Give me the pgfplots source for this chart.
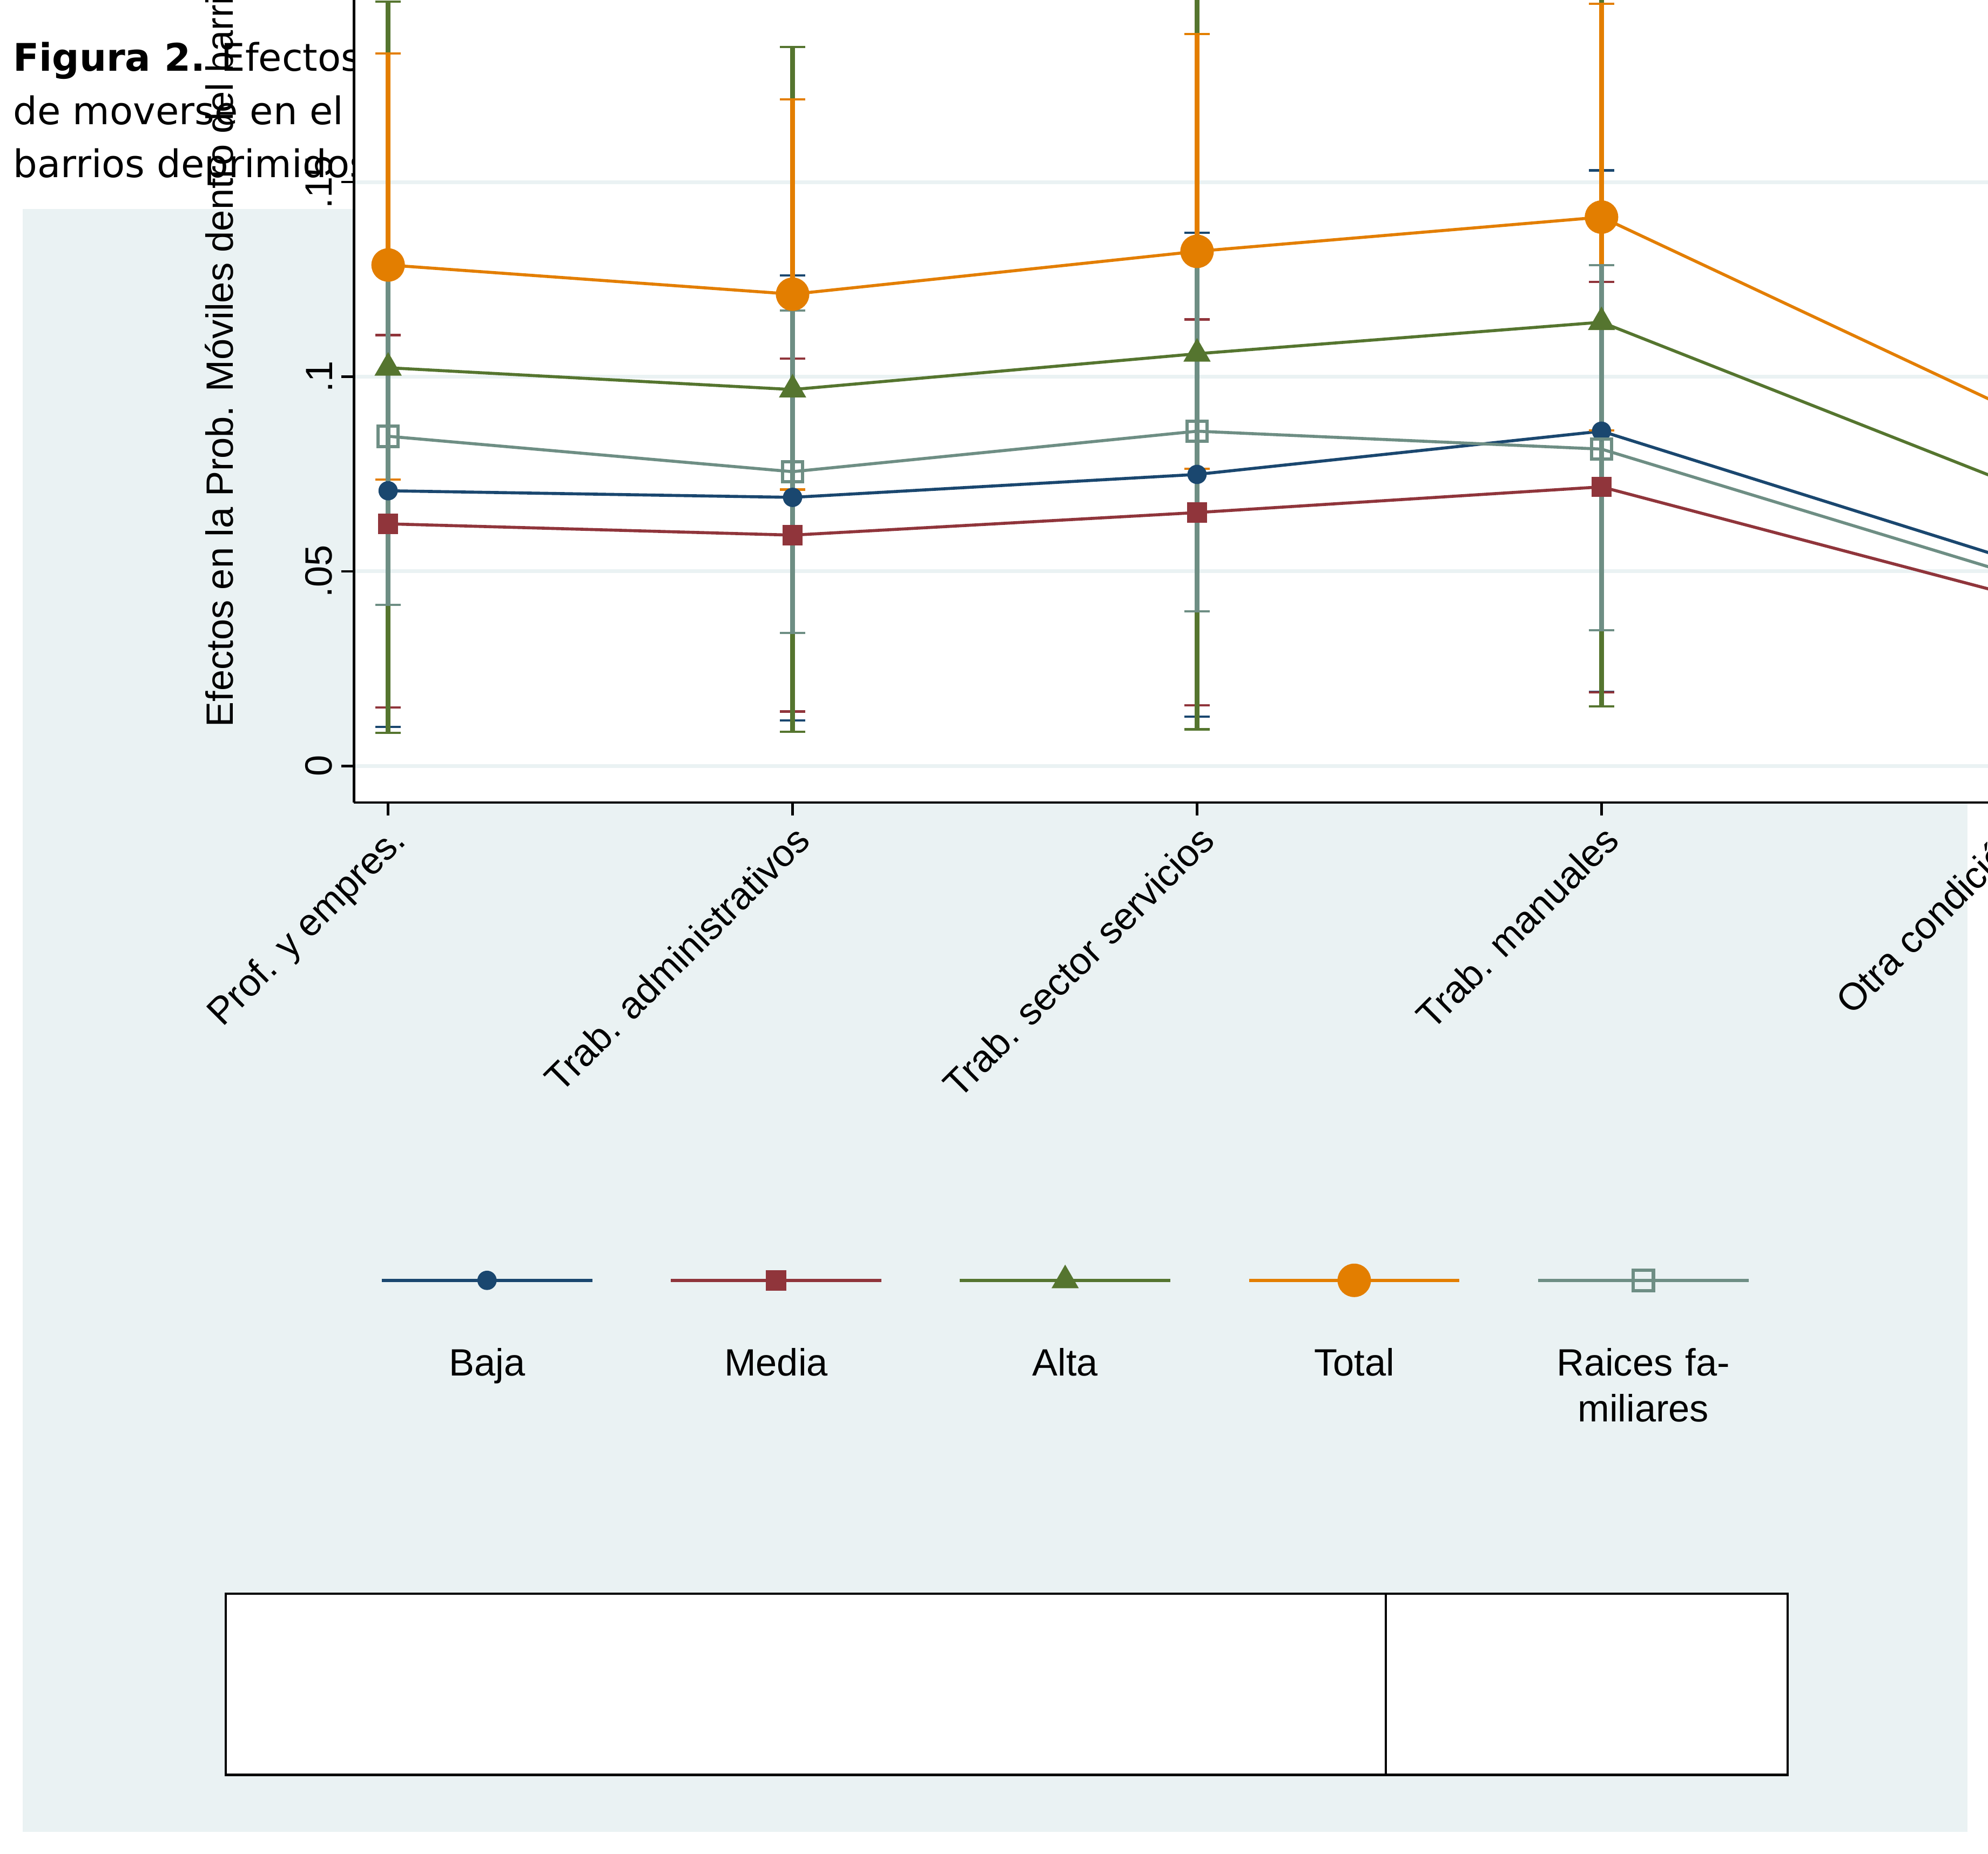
\documentclass[border=0pt]{standalone}
\usepackage{pgfplots}
\pgfplotsset{compat=1.18}
\usepackage{fontspec}
\setmainfont{Liberation Sans}
\newfontfamily\titlefont{DejaVu Sans}
\definecolor{bg}{HTML}{EAF2F3}
\definecolor{cBaja}{HTML}{1A476F}
\definecolor{cMedia}{HTML}{90353B}
\definecolor{cAlta}{HTML}{55752F}
\definecolor{cTotal}{HTML}{E37E00}
\definecolor{cRaic}{HTML}{6E8E84}
\begin{document}
\begin{tikzpicture}[x=1pt,y=1pt]
\useasboundingbox (0,0) rectangle (784,731);
\fill[white] (0,0) rectangle (784,731);
\fill[bg] (9,8.5) rectangle (776,648.5);
\node[anchor=base west,inner sep=0,font=\titlefont\fontsize{15}{18}\selectfont] at (5,703) {\textbf{Figura 2.} Efectos marginales medios (AME’s) de las variables familiares en la probabilidad};
\node[anchor=base west,inner sep=0,font=\titlefont\fontsize{15}{18}\selectfont] at (5,682) {de moverse en el barrio según la condición socioeconómica (excluyendo residentes en};
\node[anchor=base west,inner sep=0,font=\titlefont\fontsize{15}{18}\selectfont] at (5,661) {barrios deprimidos). https://doi.org/10.3989/ris.2019.77.2.18.052};
\fill[white,draw=black,line width=1pt] (89,31) rectangle (705,102.5);
\draw[line width=1pt] (546.5,31) -- (546.5,102.5);
\begin{axis}[at={(87.5,270)},anchor=south west,
  scale only axis,width=665pt,height=356pt,
  xmin=-0.0846,xmax=4.0846,ymin=-0.0094,ymax=0.2225,
  axis background/.style={fill=white},
  axis x line*=bottom,axis y line*=left,
  axis line style={line width=1pt,-},
  tick align=outside,major tick length=5pt,
  tick style={line width=1pt,black},
  xtick={0,1,2,3,4},
  xticklabels={Prof. y empres.,Trab. administrativos,Trab. sector servicios,Trab. manuales,Otra condición},
  xticklabel style={rotate=45,anchor=north east,font=\fontsize{15}{18}\selectfont,inner sep=2pt},
  ytick={0,0.05,0.1,0.15,0.2},
  yticklabels={0,.05,.1,.15,.2},
  yticklabel style={rotate=90,anchor=south,font=\fontsize{15}{18}\selectfont},
  ymajorgrids,grid style={bg,line width=1.5pt},
  ylabel={Efectos en la Prob. Móviles dentro del barrio},
  ylabel style={at={(axis description cs:-0.08,0.5)},anchor=center,font=\fontsize{15}{18}\selectfont},
  clip=false,
  legend style={draw=none,fill=none,at={(axis description cs:0.4218,-0.622)},anchor=center,
    legend columns=5,/tikz/column sep=0pt,
    nodes={text width=114pt,align=center,inner sep=0pt,font=\fontsize{15}{18}\selectfont}},
  legend image code/.code={\draw[overlay,#1,mark repeat=2,mark phase=2] plot coordinates {(15.5pt,33pt)(57pt,33pt)(98.5pt,33pt)};},
  every axis plot/.append style={line width=1.2pt},
  error bars/y dir=both,error bars/y explicit,
  error bars/error mark options={rotate=90,mark size=5pt,line width=0.9pt},
  error bars/error bar style={line width=1.8pt},
]
\addplot[cBaja,mark=*,mark size=3.2pt,mark options={solid,fill=cBaja}] table[x=x,y=y,y error plus=ep,y error minus=em]{
x y ep em
0 0.0707 0.0603 0.0607
1 0.0690 0.0570 0.0573
2 0.0749 0.0621 0.0622
3 0.0860 0.0670 0.0670
4 0.0534 0.0459 0.0462
};
\addlegendentry{Baja}
\addplot[cMedia,mark=square*,mark size=3.4pt,mark options={solid,fill=cMedia}] table[x=x,y=y,y error plus=ep,y error minus=em]{
x y ep em
0 0.0622 0.0485 0.0472
1 0.0593 0.0453 0.0453
2 0.0651 0.0496 0.0495
3 0.0717 0.0527 0.0528
4 0.0443 0.0352 0.0355
};
\addlegendentry{Media}
\addplot[cAlta,mark=triangle*,mark size=5pt,mark options={solid,fill=cAlta}] table[x=x,y=y,y error plus=ep,y error minus=em]{
x y ep em
0 0.1023 0.0941 0.0938
1 0.0967 0.0880 0.0879
2 0.1059 0.0967 0.0965
3 0.1140 0.0990 0.0987
4 0.0730 0.0703 0.0704
};
\addlegendentry{Alta}
\addplot[cTotal,mark=*,mark size=6pt,mark options={solid,fill=cTotal}] table[x=x,y=y,y error plus=ep,y error minus=em]{
x y ep em
0 0.1287 0.0543 0.0551
1 0.1212 0.0501 0.0502
2 0.1322 0.0558 0.0558
3 0.1410 0.0548 0.0548
4 0.0922 0.0427 0.0427
};
\addlegendentry{Total}
\addplot[cRaic,mark=square,mark size=4pt,mark options={solid,fill=white,line width=1.3pt}] table[x=x,y=y,y error plus=ep,y error minus=em]{
x y ep em
0 0.0847 0.0433 0.0433
1 0.0756 0.0414 0.0414
2 0.0860 0.0463 0.0463
3 0.0814 0.0473 0.0465
4 0.0498 0.0326 0.0335
};
\addlegendentry{Raices familiares}
\end{axis}
\end{tikzpicture}
\end{document}
